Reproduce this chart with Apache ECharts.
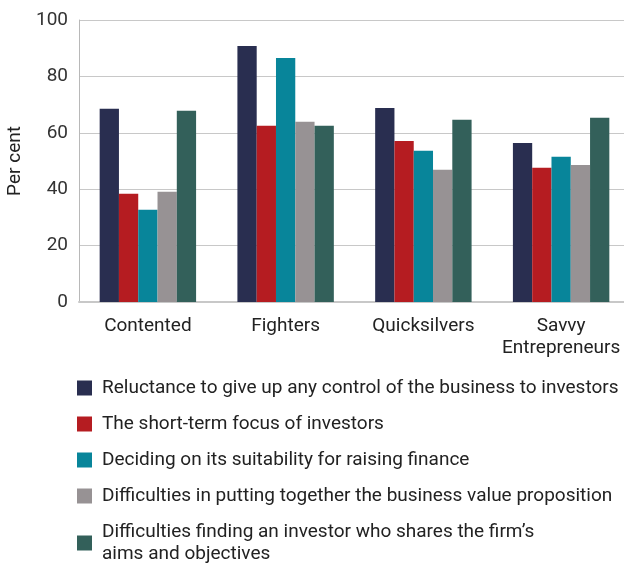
<!DOCTYPE html>
<html>
<head>
<meta charset="utf-8">
<script src="https://cdn.jsdelivr.net/npm/echarts@6/dist/echarts.min.js"></script>
<style>
  html, body { margin: 0; padding: 0; background: #fff; }
  #chart { width: 624px; height: 564px; }
</style>
</head>
<body>
<div id="chart"></div>
<script>
const categories = ['Contented', 'Fighters', 'Quicksilvers', 'Savvy\nEntrepreneurs']
const seriesNames = [
  'Reluctance to give up any control of the business to investors',
  'The short-term focus of investors',
  'Deciding on its suitability for raising finance',
  'Difficulties in putting together the business value proposition',
  'Difficulties finding an investor who shares the firm\u2019s\naims and objectives',
]
const reluctance = [68.5, 90.8, 68.8, 56.4]
const shortTerm = [38.4, 62.5, 57.1, 47.6]
const suitability = [32.7, 86.5, 53.6, 51.5]
const valueProp = [39.1, 63.9, 46.9, 48.6]
const findInvestor = [67.8, 62.5, 64.6, 65.3]
const yTicks = [0, 20, 40, 60, 80, 100]

const colors = ['#292e50', '#b51c21', '#08859a', '#979294', '#33605a']
const seriesData = [reluctance, shortTerm, suitability, valueProp, findInvestor]
const fontFamily = 'Roboto, "Noto Sans", sans-serif'

const chart = echarts.init(document.getElementById('chart'))
chart.setOption({
  animation: false,
  color: colors,
  textStyle: { fontFamily },
  grid: { left: 79, right: -6, top: 20, bottom: 262, containLabel: false, outerBoundsMode: 'none' },
  legend: {
    orient: 'vertical',
    left: 77,
    top: 377,
    height: 260,
    padding: 0,
    itemWidth: 15,
    itemHeight: 15,
    itemGap: 14,
    icon: 'rect',
    textStyle: { fontSize: 19, color: '#222', lineHeight: 22, padding: [0, 0, 0, 5] },
    data: seriesNames,
  },
  xAxis: {
    type: 'category',
    data: categories,
    axisLine: { lineStyle: { color: '#c8c8c8', width: 2 } },
    axisTick: { show: false },
    axisLabel: { interval: 0, fontSize: 19, color: '#222', margin: 13, lineHeight: 22 },
  },
  yAxis: {
    type: 'value',
    min: 0,
    max: 100,
    interval: 20,
    name: 'Per cent',
    nameLocation: 'middle',
    nameGap: 53,
    nameTextStyle: { fontSize: 19, color: '#222' },
    axisLine: { show: true, lineStyle: { color: '#b8b8b8' } },
    axisTick: { show: false },
    axisLabel: {
      fontSize: 19,
      color: '#333',
      margin: 11,
      formatter: (v) => (yTicks.includes(v) ? String(v) : ''),
    },
    splitLine: { lineStyle: { color: '#c8c8c8' } },
  },
  series: seriesNames.map((name, i) => ({
    name,
    type: 'bar',
    data: seriesData[i],
    barGap: '0%',
    barCategoryGap: '30%',
  })),
})
</script>
</body>
</html>
